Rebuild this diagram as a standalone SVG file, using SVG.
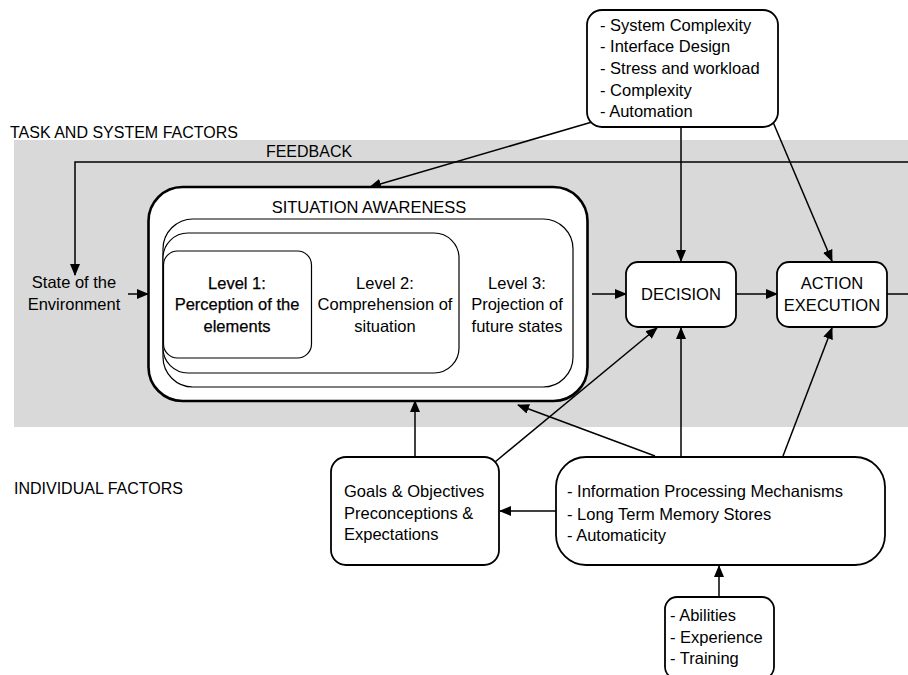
<svg xmlns="http://www.w3.org/2000/svg" width="908" height="675" viewBox="0 0 908 675">
  <style>
    text { font-family: "Liberation Sans", Arial, sans-serif; font-size: 16.5px; fill: #000; }
    .c { text-anchor: middle; }
    .box { fill: #fff; stroke: #000; stroke-width: 1.8; }
    .thin { fill: #fff; stroke: #000; stroke-width: 1.2; }
    .conn { fill: none; stroke: #000; stroke-width: 1.5; }
    .heavy { stroke: #000; stroke-width: 0.25; }
  </style>
  <defs>
    <marker id="arrow" markerUnits="userSpaceOnUse" markerWidth="12" markerHeight="10" refX="11" refY="5" orient="auto">
      <path d="M0,0 L12,5 L0,10 Z" fill="#000"/>
    </marker>
  </defs>

  <!-- task and system factors band -->
  <rect x="14" y="140" width="894" height="287" fill="#d9d9d9"/>
  <text x="10" y="138" style="font-size:16px">TASK AND SYSTEM FACTORS</text>
  <text x="14" y="494" style="font-size:16px">INDIVIDUAL FACTORS</text>
  <text x="309" y="157" class="c" style="font-size:16px">FEEDBACK</text>

  <g id="connectors">
    <!-- feedback loop -->
    <polyline class="conn" points="908,162 75,162 75,275" marker-end="url(#arrow)"/>
    <line class="conn" x1="128" y1="294" x2="148" y2="294" marker-end="url(#arrow)"/>
    <!-- task factors into SA, decision, action -->
    <line class="conn" x1="592" y1="122" x2="370" y2="187" marker-end="url(#arrow)"/>
    <line class="conn" x1="681" y1="127" x2="681" y2="261" marker-end="url(#arrow)"/>
    <line class="conn" x1="773" y1="122" x2="832" y2="261" marker-end="url(#arrow)"/>
    <!-- main flow -->
    <line class="conn" x1="592" y1="294" x2="626" y2="294" marker-end="url(#arrow)"/>
    <line class="conn" x1="736" y1="294" x2="777" y2="294" marker-end="url(#arrow)"/>
    <line class="conn" x1="887" y1="294" x2="908" y2="294"/>
    <!-- individual factors -->
    <line class="conn" x1="415" y1="457" x2="415" y2="401" marker-end="url(#arrow)"/>
    <line class="conn" x1="495" y1="462" x2="657" y2="328" marker-end="url(#arrow)"/>
    <line class="conn" x1="655" y1="456" x2="518" y2="405" marker-end="url(#arrow)"/>
    <line class="conn" x1="681" y1="457" x2="681" y2="328" marker-end="url(#arrow)"/>
    <line class="conn" x1="783" y1="456" x2="832" y2="328" marker-end="url(#arrow)"/>
    <line class="conn" x1="556" y1="511" x2="500" y2="511" marker-end="url(#arrow)"/>
    <line class="conn" x1="719" y1="597" x2="719" y2="566" marker-end="url(#arrow)"/>
  </g>

  <g id="task-factors">
    <rect class="box" x="587" y="10" width="191" height="117" rx="15"/>
    <text x="600" y="31">- System Complexity</text>
    <text x="600" y="52">- Interface Design</text>
    <text x="600" y="74">- Stress and workload</text>
    <text x="600" y="96">- Complexity</text>
    <text x="600" y="117">- Automation</text>
  </g>

  <g id="environment">
    <text x="74" y="288" class="c">State of the</text>
    <text x="74" y="310" class="c">Environment</text>
  </g>

  <g id="situation-awareness">
    <rect x="148.5" y="187" width="439" height="214" rx="34" fill="#fff" stroke="#000" stroke-width="2.6"/>
    <text x="369" y="213" class="c">SITUATION AWARENESS</text>
    <g id="level3">
      <rect class="thin" x="163" y="219" width="410" height="168" rx="30"/>
      <text x="517" y="289" class="c">Level 3:</text>
      <text x="517" y="310" class="c">Projection of</text>
      <text x="517" y="332" class="c">future states</text>
    </g>
    <g id="level2">
      <rect class="thin" x="163" y="233" width="296" height="140" rx="25"/>
      <text x="385" y="289" class="c">Level 2:</text>
      <text x="385" y="310" class="c">Comprehension of</text>
      <text x="385" y="332" class="c">situation</text>
    </g>
    <g id="level1">
      <rect class="thin" x="163.5" y="251" width="148" height="107" rx="14" stroke-width="1.6"/>
      <text x="237" y="289" class="c heavy">Level 1:</text>
      <text x="237" y="310" class="c heavy">Perception of the</text>
      <text x="237" y="332" class="c heavy">elements</text>
    </g>
  </g>

  <g id="decision">
    <rect class="box" x="626" y="262" width="110" height="65" rx="12"/>
    <text x="681" y="300" class="c">DECISION</text>
  </g>

  <g id="action-execution">
    <rect class="box" x="777" y="262" width="110" height="65" rx="12"/>
    <text x="832" y="289" class="c">ACTION</text>
    <text x="832" y="311" class="c">EXECUTION</text>
  </g>

  <g id="goals">
    <rect class="box" x="331" y="457" width="168" height="108" rx="15"/>
    <text x="344" y="497">Goals &amp; Objectives</text>
    <text x="344" y="519">Preconceptions &amp;</text>
    <text x="344" y="540">Expectations</text>
  </g>

  <g id="information-processing">
    <rect class="box" x="556" y="457" width="329" height="108" rx="30"/>
    <text x="567" y="497">- Information Processing Mechanisms</text>
    <text x="567" y="520">- Long Term Memory Stores</text>
    <text x="567" y="541">- Automaticity</text>
  </g>

  <g id="abilities">
    <rect class="box" x="665" y="597" width="109" height="82" rx="12"/>
    <text x="670" y="621">- Abilities</text>
    <text x="670" y="643">- Experience</text>
    <text x="670" y="664">- Training</text>
  </g>
</svg>
